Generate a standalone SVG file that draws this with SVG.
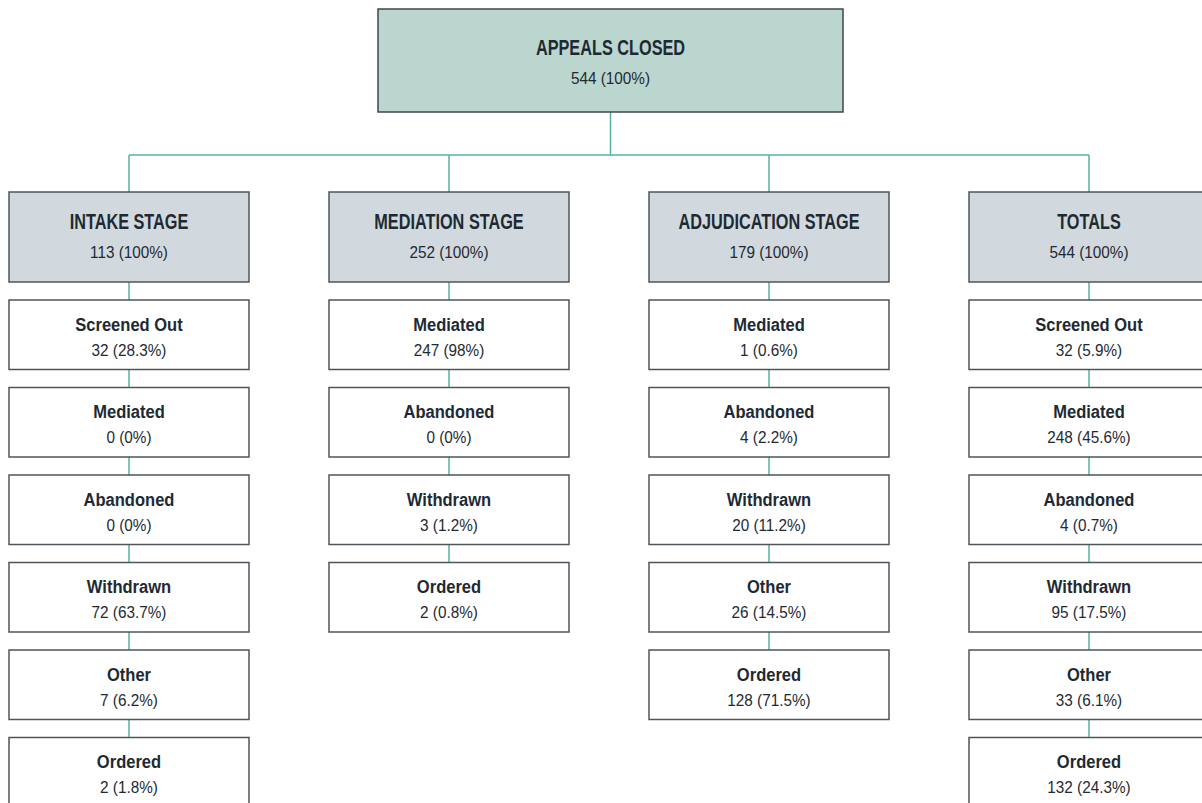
<svg xmlns="http://www.w3.org/2000/svg" width="1202" height="803" viewBox="0 0 1202 803">
<style>
.box{fill:#ffffff;stroke:#4d555b;stroke-width:1.5}
.top{fill:#bbd6cf;stroke:#3f474d;stroke-width:1.5}
.stage{fill:#d2d9de;stroke:#4d555b;stroke-width:1.5}
.conn{fill:none;stroke:#55b4a1;stroke-width:1.5}
text{font-family:"Liberation Sans",Arial,sans-serif;fill:#1e2a33;text-anchor:middle;transform-box:fill-box;transform-origin:center}
.h{font-size:22px;font-weight:bold;transform:scaleX(0.74)}
.t{font-size:19px;font-weight:bold;transform:scaleX(0.87)}
.v{font-size:17px;transform:scaleX(0.9)}
</style>
<g id="connectors">
<path class="conn" d="M610.5 112V155M129 155H1089M129 155V192M449 155V192M769 155V192M1089 155V192"/>
<path class="conn" d="M129 282V300M129 369.5V387.5M129 457V475M129 544.5V562.5M129 632V650M129 719.5V737.5"/>
<path class="conn" d="M449 282V300M449 369.5V387.5M449 457V475M449 544.5V562.5"/>
<path class="conn" d="M769 282V300M769 369.5V387.5M769 457V475M769 544.5V562.5M769 632V650"/>
<path class="conn" d="M1089 282V300M1089 369.5V387.5M1089 457V475M1089 544.5V562.5M1089 632V650M1089 719.5V737.5"/>
</g>
<g id="appeals-closed"><rect class="top" x="378" y="9" width="465" height="103"/><text class="h" x="610.5" y="55">APPEALS CLOSED</text><text class="v" x="610.5" y="84">544 (100%)</text></g>

<g id="intake-stage"><rect class="stage" x="9" y="192" width="240" height="90"/><text class="h" x="129" y="229.5">INTAKE STAGE</text><text class="v" x="129" y="258.5">113 (100%)</text></g>
<g id="intake-screened"><rect class="box" x="9" y="300" width="240" height="69.5"/><text class="t" x="129" y="330.7">Screened Out</text><text class="v" x="129" y="355.7">32 (28.3%)</text></g>
<g id="intake-mediated"><rect class="box" x="9" y="387.5" width="240" height="69.5"/><text class="t" x="129" y="418.2">Mediated</text><text class="v" x="129" y="443.2">0 (0%)</text></g>
<g id="intake-abandoned"><rect class="box" x="9" y="475" width="240" height="69.5"/><text class="t" x="129" y="505.7">Abandoned</text><text class="v" x="129" y="530.7">0 (0%)</text></g>
<g id="intake-withdrawn"><rect class="box" x="9" y="562.5" width="240" height="69.5"/><text class="t" x="129" y="593.2">Withdrawn</text><text class="v" x="129" y="618.2">72 (63.7%)</text></g>
<g id="intake-other"><rect class="box" x="9" y="650" width="240" height="69.5"/><text class="t" x="129" y="680.7">Other</text><text class="v" x="129" y="705.7">7 (6.2%)</text></g>
<g id="intake-ordered"><rect class="box" x="9" y="737.5" width="240" height="69.5"/><text class="t" x="129" y="768.2">Ordered</text><text class="v" x="129" y="793.2">2 (1.8%)</text></g>

<g id="mediation-stage"><rect class="stage" x="329" y="192" width="240" height="90"/><text class="h" x="449" y="229.5">MEDIATION STAGE</text><text class="v" x="449" y="258.5">252 (100%)</text></g>
<g id="mediation-mediated"><rect class="box" x="329" y="300" width="240" height="69.5"/><text class="t" x="449" y="330.7">Mediated</text><text class="v" x="449" y="355.7">247 (98%)</text></g>
<g id="mediation-abandoned"><rect class="box" x="329" y="387.5" width="240" height="69.5"/><text class="t" x="449" y="418.2">Abandoned</text><text class="v" x="449" y="443.2">0 (0%)</text></g>
<g id="mediation-withdrawn"><rect class="box" x="329" y="475" width="240" height="69.5"/><text class="t" x="449" y="505.7">Withdrawn</text><text class="v" x="449" y="530.7">3 (1.2%)</text></g>
<g id="mediation-ordered"><rect class="box" x="329" y="562.5" width="240" height="69.5"/><text class="t" x="449" y="593.2">Ordered</text><text class="v" x="449" y="618.2">2 (0.8%)</text></g>

<g id="adjudication-stage"><rect class="stage" x="649" y="192" width="240" height="90"/><text class="h" x="769" y="229.5">ADJUDICATION STAGE</text><text class="v" x="769" y="258.5">179 (100%)</text></g>
<g id="adjudication-mediated"><rect class="box" x="649" y="300" width="240" height="69.5"/><text class="t" x="769" y="330.7">Mediated</text><text class="v" x="769" y="355.7">1 (0.6%)</text></g>
<g id="adjudication-abandoned"><rect class="box" x="649" y="387.5" width="240" height="69.5"/><text class="t" x="769" y="418.2">Abandoned</text><text class="v" x="769" y="443.2">4 (2.2%)</text></g>
<g id="adjudication-withdrawn"><rect class="box" x="649" y="475" width="240" height="69.5"/><text class="t" x="769" y="505.7">Withdrawn</text><text class="v" x="769" y="530.7">20 (11.2%)</text></g>
<g id="adjudication-other"><rect class="box" x="649" y="562.5" width="240" height="69.5"/><text class="t" x="769" y="593.2">Other</text><text class="v" x="769" y="618.2">26 (14.5%)</text></g>
<g id="adjudication-ordered"><rect class="box" x="649" y="650" width="240" height="69.5"/><text class="t" x="769" y="680.7">Ordered</text><text class="v" x="769" y="705.7">128 (71.5%)</text></g>

<g id="totals"><rect class="stage" x="969" y="192" width="240" height="90"/><text class="h" x="1089" y="229.5">TOTALS</text><text class="v" x="1089" y="258.5">544 (100%)</text></g>
<g id="totals-screened"><rect class="box" x="969" y="300" width="240" height="69.5"/><text class="t" x="1089" y="330.7">Screened Out</text><text class="v" x="1089" y="355.7">32 (5.9%)</text></g>
<g id="totals-mediated"><rect class="box" x="969" y="387.5" width="240" height="69.5"/><text class="t" x="1089" y="418.2">Mediated</text><text class="v" x="1089" y="443.2">248 (45.6%)</text></g>
<g id="totals-abandoned"><rect class="box" x="969" y="475" width="240" height="69.5"/><text class="t" x="1089" y="505.7">Abandoned</text><text class="v" x="1089" y="530.7">4 (0.7%)</text></g>
<g id="totals-withdrawn"><rect class="box" x="969" y="562.5" width="240" height="69.5"/><text class="t" x="1089" y="593.2">Withdrawn</text><text class="v" x="1089" y="618.2">95 (17.5%)</text></g>
<g id="totals-other"><rect class="box" x="969" y="650" width="240" height="69.5"/><text class="t" x="1089" y="680.7">Other</text><text class="v" x="1089" y="705.7">33 (6.1%)</text></g>
<g id="totals-ordered"><rect class="box" x="969" y="737.5" width="240" height="69.5"/><text class="t" x="1089" y="768.2">Ordered</text><text class="v" x="1089" y="793.2">132 (24.3%)</text></g>
</svg>
